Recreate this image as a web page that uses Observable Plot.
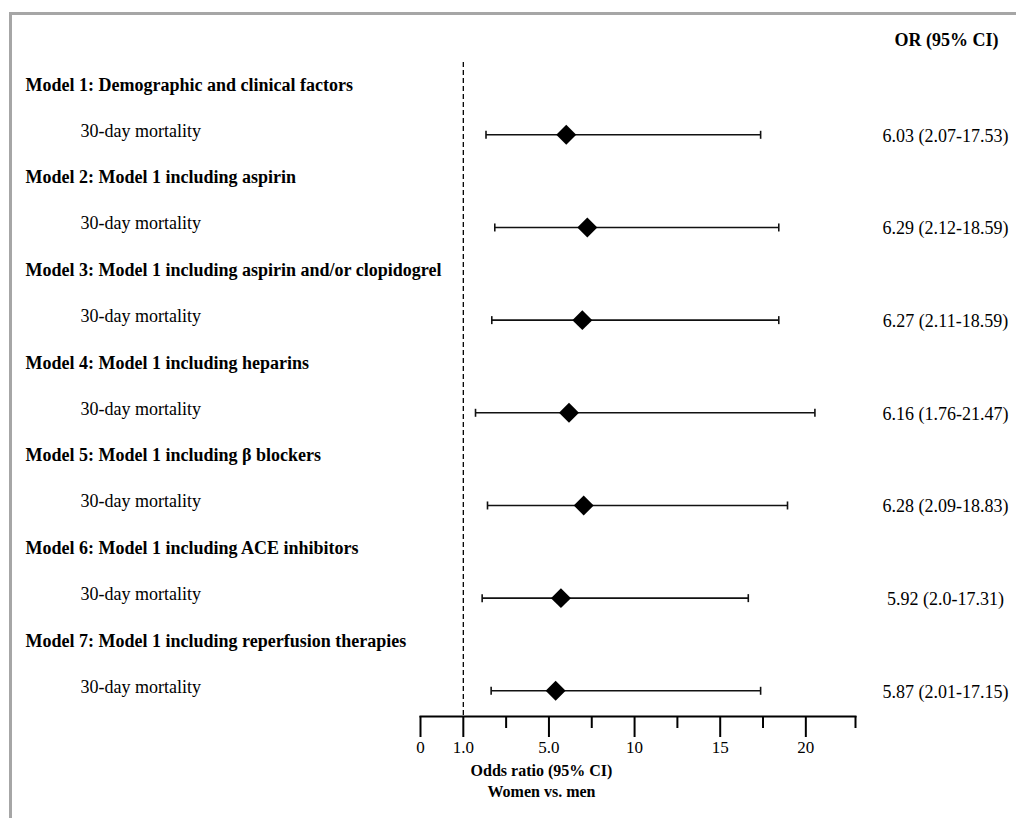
<!DOCTYPE html>
<html><head><meta charset="utf-8">
<script src="https://cdn.jsdelivr.net/npm/d3@7"></script>
<script src="https://cdn.jsdelivr.net/npm/@observablehq/plot@0.6"></script>
<style>
html,body{margin:0;padding:0;background:#fff;}
body{overflow:hidden;width:1016px;height:818px;position:relative;}
#frame{position:absolute;left:9px;top:12px;width:1100px;height:900px;border-top:3px solid #a6a6a6;border-left:3px solid #a6a6a6;}
#chart{position:absolute;left:0;top:0;}
</style></head><body>
<div id="frame"></div><div id="chart"></div>
<script>
const models = [
  "Model 1: Demographic and clinical factors",
  "Model 2: Model 1 including aspirin",
  "Model 3: Model 1 including aspirin and/or clopidogrel",
  "Model 4: Model 1 including heparins",
  "Model 5: Model 1 including β blockers",
  "Model 6: Model 1 including ACE inhibitors",
  "Model 7: Model 1 including reperfusion therapies"
];
const outcome = "30-day mortality";
const estimate = [6.01, 7.24, 6.95, 6.17, 7.03, 5.70, 5.39];
const lower = [2.06, 2.47, 2.33, 1.57, 2.13, 1.88, 2.30];
const upper = [17.36, 18.42, 18.42, 20.53, 18.93, 16.64, 17.36];
const orLabels = ["6.03 (2.07-17.53)", "6.29 (2.12-18.59)", "6.27 (2.11-18.59)", "6.16 (1.76-21.47)", "6.28 (2.09-18.83)", "5.92 (2.0-17.31)", "5.87 (2.01-17.15)"];
const majorTicks = [0, 1, 5, 10, 15, 20];
const majorTickLabels = ["0", "1.0", "5.0", "10", "15", "20"];
const minorTicks = [3, 7.5, 12.5, 17.5, 22.9];
const axisBreaks = [1, 5];          // the axis is stretched piecewise at these values
const columnTitle = "OR (95% CI)";
const axisTitle1 = "Odds ratio (95% CI)";
const axisTitle2 = "Women vs. men";

// piecewise axis: 0–1 one step, 1–5 two steps, then 2.5 per step
const stretch = v => v <= axisBreaks[0] ? v
  : v <= axisBreaks[1] ? 1 + (v - axisBreaks[0]) / 2
  : 3 + (v - axisBreaks[1]) / 2.5;

const rows = models.map((m, i) => ({k: i, model: m, est: estimate[i], lo: lower[i], hi: upper[i], label: orLabels[i]}));
const cap = {draw(ctx) { ctx.moveTo(0, -4); ctx.lineTo(0, 4); }};
const font = {fontFamily: "Liberation Serif", fontSize: 18, fill: "#000"};

const chart = Plot.plot({
  width: 1016, height: 818,
  marginLeft: 420, marginRight: 161, marginTop: 62, marginBottom: 102,
  style: {fontFamily: "Liberation Serif", fontSize: "18px", color: "#000", background: "transparent"},
  x: {transform: stretch, domain: [0, stretch(22.9)], axis: null},
  y: {domain: [0, 6], range: [134.3, 690.3], axis: null},
  marks: [
    Plot.ruleX([1], {stroke: "#000", strokeWidth: 1.3, strokeDasharray: "5,3"}),
    Plot.frame({anchor: "bottom", stroke: "#000", strokeWidth: 2}),
    Plot.axisX(majorTicks, {tickSize: 21, tickPadding: 3, strokeWidth: 2, stroke: "#000", tickFormat: (d) => majorTickLabels[majorTicks.indexOf(d)], fontSize: 17, fill: "#000", fontFamily: "Liberation Serif"}),
    Plot.axisX(minorTicks, {tickSize: 12, strokeWidth: 2, stroke: "#000", tickFormat: () => ""}),
    Plot.link(rows, {x1: "lo", x2: "hi", y1: "k", y2: "k", stroke: "#111", strokeWidth: 1.6}),
    Plot.dot(rows, {x: "lo", y: "k", symbol: cap, stroke: "#111", strokeWidth: 1.6, r: 4}),
    Plot.dot(rows, {x: "hi", y: "k", symbol: cap, stroke: "#111", strokeWidth: 1.6, r: 4}),
    Plot.dot(rows, {x: "est", y: "k", symbol: "diamond2", r: 9, fill: "#000", stroke: "none"}),
    Plot.text(rows, {y: "k", text: "model", frameAnchor: "left", dx: -395, dy: -50, textAnchor: "start", fontWeight: "bold", ...font}),
    Plot.text(rows, {y: "k", text: () => outcome, frameAnchor: "left", dx: -340, dy: -4, textAnchor: "start", ...font}),
    Plot.text(rows, {y: "k", text: "label", frameAnchor: "right", dx: 90, dy: 1, textAnchor: "middle", ...font}),
    Plot.text([columnTitle], {text: d => d, frameAnchor: "top-right", dx: 91, dy: -29, textAnchor: "middle", fontWeight: "bold", ...font}),
    Plot.text([axisTitle1], {text: d => d, frameAnchor: "bottom-left", dx: 121, dy: 59, textAnchor: "middle", fontWeight: "bold", ...font, fontSize: 16}),
    Plot.text([axisTitle2], {text: d => d, frameAnchor: "bottom-left", dx: 121, dy: 80, textAnchor: "middle", fontWeight: "bold", ...font, fontSize: 16})
  ]
});
document.getElementById("chart").appendChild(chart);
</script>
</body></html>
